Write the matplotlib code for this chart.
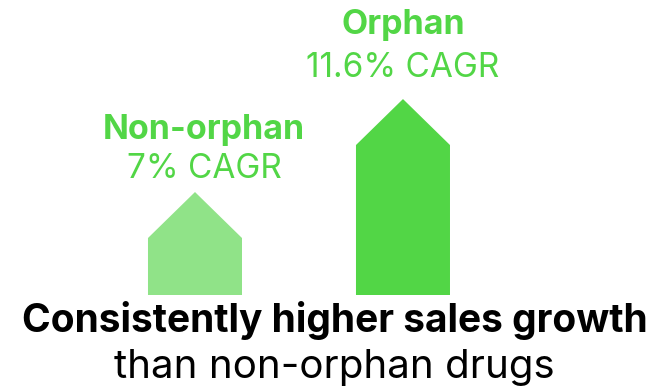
import matplotlib
matplotlib.use("Agg")
import matplotlib.pyplot as plt
from matplotlib.patches import Polygon

categories = ["Non-orphan", "Orphan"]
cagr = [7.0, 11.6]
value_labels = ["7% CAGR", "11.6% CAGR"]
colors = ["#90E388", "#52D646"]
text_color = "#52D646"

W, H, DPI = 669, 389, 100
fig = plt.figure(figsize=(W / DPI, H / DPI), dpi=DPI)
fig.patch.set_facecolor("white")

# axes occupies from top of figure down to bar baseline (295 px)
base_px = 295
ax = fig.add_axes([0, 1 - base_px / H, 1, base_px / H])
ax.set_xlim(-0.9375, 2.279)
ax.set_ylim(1.906, 16.5)
ax.axis("off")

FONT = "Inter"
bar_w = 0.452
head = 2.275
# label offsets in points relative to the peak: (dx, name dy, value dy)
offsets = [(6.5, 38, 10), (0, 47, 16)]
for i, (cat, v, lab, c) in enumerate(zip(categories, cagr, value_labels, colors)):
    xs = [i - bar_w / 2, i - bar_w / 2, i, i + bar_w / 2, i + bar_w / 2]
    ys = [0, v - head, v, v - head, 0]
    ax.add_patch(Polygon(list(zip(xs, ys)), closed=True, facecolor=c, edgecolor="none"))
    dx, o1, o2 = offsets[i]
    ax.annotate(cat, (i, v), xytext=(dx, o1), textcoords="offset points",
                ha="center", va="baseline", fontsize=24.5, fontweight="bold",
                color=text_color, family=FONT)
    ax.annotate(lab, (i, v), xytext=(dx, o2), textcoords="offset points",
                ha="center", va="baseline", fontsize=24,
                color=text_color, family=FONT)

fig.text(0.5, 1 - 332 / H, "Consistently higher sales growth", ha="center", va="baseline",
         fontsize=28, fontweight="bold", color="black", family=FONT)
fig.text(0.5, 1 - 378 / H, "than non-orphan drugs", ha="center", va="baseline",
         fontsize=29, color="black", family=FONT)

fig.savefig("out.png", dpi=DPI)
